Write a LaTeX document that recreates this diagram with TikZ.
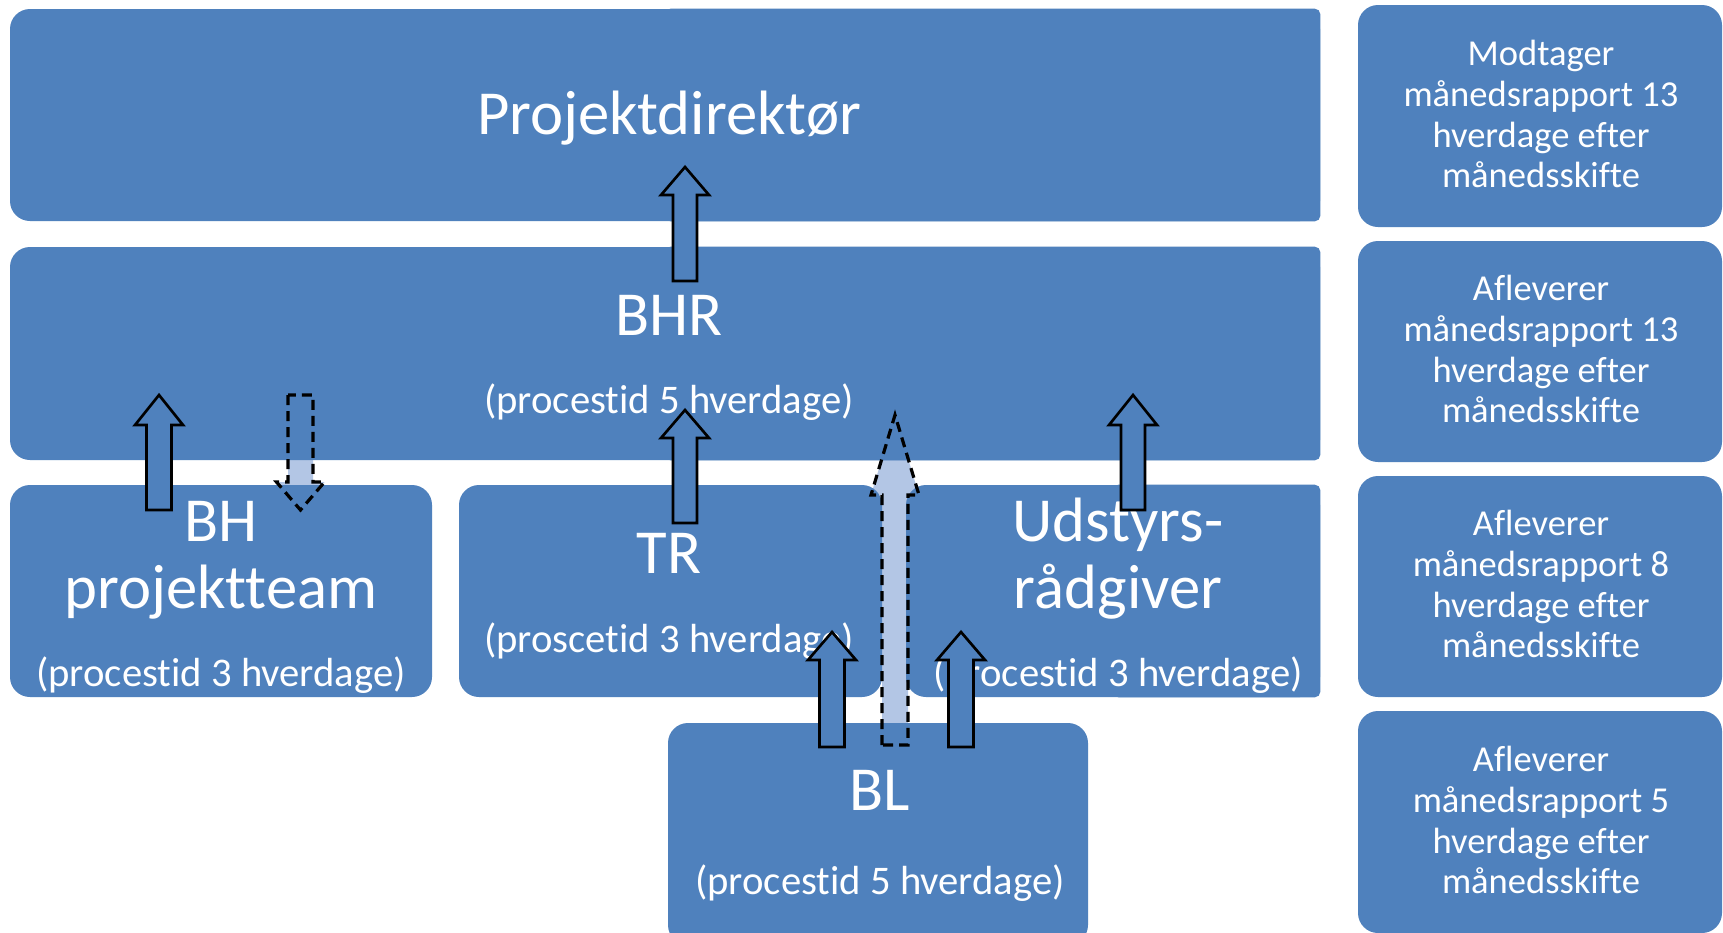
\documentclass[tikz,border=0pt]{standalone}
\usepackage{fontspec}
\setmainfont{Carlito}[Ligatures=NoCommon]
\definecolor{boxblue}{HTML}{4F81BD}
\definecolor{patblue}{HTML}{B3C6E5}
\newcommand\blkarrow[6]{% #1 style, #2 x, #3 base y, #4 tip y, #5 head base y, #6 body half width
  \path[#1] ({#2-#6},#3) -- ({#2-#6},#5) -- ({#2-24},#5) -- (#2,#4) -- ({#2+24},#5) -- ({#2+#6},#5) -- ({#2+#6},#3) -- cycle;}
\tikzset{
  box/.style={fill=boxblue, rounded corners=15pt, inner sep=0pt},
  bigtxt/.style={text=white, anchor=base, inner sep=0pt, font=\fontsize{47}{52}\selectfont},
  proctxt/.style={text=white, anchor=base, inner sep=0pt, font=\fontsize{30.5}{34}\selectfont},
  sidetxt/.style={text=white, anchor=base, inner sep=0pt, font=\fontsize{27.4}{31}\selectfont},
  solidarrow/.style={draw=black, fill=boxblue, line width=2pt, line join=miter},
  dasharrowfill/.style={fill=patblue},
  dasharrowline/.style={draw=black, line width=2.4pt, dash pattern=on 7.5pt off 4.5pt, line join=miter},
}
\begin{document}
\begin{tikzpicture}[x=0.75pt, y=-0.75pt]
\useasboundingbox (0,0) rectangle (1723,932);
\clip (0,0) rectangle (1723,932);
\fill[white] (0,0) rectangle (1723,932);
% patterned fills of the dashed arrows (visible only where no box lies over them)
\blkarrow{dasharrowfill}{300.5}{395}{510}{482}{12.5}
\blkarrow{dasharrowfill}{895}{745}{415}{495}{13}
% boxes
\node[box, minimum width=982.5pt, minimum height=159pt] (pd) at (665,115) {};
\fill[boxblue, rounded corners=4pt] (pd.north) rectangle (pd.south east);
\node[box, minimum width=982.5pt, minimum height=159.75pt] (bhr) at (665,353.5) {};
\fill[boxblue, rounded corners=4pt] (bhr.north) rectangle (bhr.south east);
\node[box, minimum width=316.5pt, minimum height=159pt] (bh) at (221,591) {};
\node[box, minimum width=317.25pt, minimum height=159pt] (tr) at (670.5,591) {};
\node[box, minimum width=310.5pt, minimum height=159pt] (ud) at (1113,591) {};
\fill[boxblue, rounded corners=4pt] (ud.north) rectangle (ud.south east);
\node[box, minimum width=315pt, minimum height=166.5pt] (bl) at (878,834) {};
\node[box, minimum width=273pt, minimum height=166.5pt] (r1) at (1540,116) {};
\node[box, minimum width=273pt, minimum height=165.75pt] (r2) at (1540,351.5) {};
\node[box, minimum width=273pt, minimum height=165.75pt] (r3) at (1540,586.5) {};
\node[box, minimum width=273pt, minimum height=166.5pt] (r4) at (1540,822) {};
% texts
\node[bigtxt] (tpd) at (669,134) {Projektdirektør};
\node[bigtxt] (tbhr) at (669,335) {BHR};
\node[proctxt] (pbhr) at (669,413) {(procestid 5 hverdage)};
\node[bigtxt] (tbh1) at (221,541) {BH};
\node[bigtxt] (tbh2) at (221,608) {projektteam};
\node[proctxt] (pbh) at (221,686) {(procestid 3 hverdage)};
\node[bigtxt] (ttr) at (669,573) {TR};
\node[proctxt] (ptr) at (669,652) {(proscetid 3 hverdage)};
\node[bigtxt] (tud1) at (1118,541) {Udstyrs-};
\node[bigtxt] (tud2) at (1118,608) {rådgiver};
\node[proctxt] (pud) at (1118,686) {(procestid 3 hverdage)};
\node[bigtxt] (tbl) at (880,810) {BL};
\node[proctxt] (pbl) at (880,894) {(procestid 5 hverdage)};
\node[sidetxt] (s1a) at (1541,65) {Modtager};
\node[sidetxt] (s1b) at (1541,106) {månedsrapport 13};
\node[sidetxt] (s1c) at (1541,147) {hverdage efter};
\node[sidetxt] (s1d) at (1541,187) {månedsskifte};
\node[sidetxt] (s2a) at (1541,300) {Afleverer};
\node[sidetxt] (s2b) at (1541,341) {månedsrapport 13};
\node[sidetxt] (s2c) at (1541,382) {hverdage efter};
\node[sidetxt] (s2d) at (1541,422) {månedsskifte};
\node[sidetxt] (s3a) at (1541,535) {Afleverer};
\node[sidetxt] (s3b) at (1541,576) {månedsrapport 8};
\node[sidetxt] (s3c) at (1541,617) {hverdage efter};
\node[sidetxt] (s3d) at (1541,657) {månedsskifte};
\node[sidetxt] (s4a) at (1541,771) {Afleverer};
\node[sidetxt] (s4b) at (1541,812) {månedsrapport 5};
\node[sidetxt] (s4c) at (1541,853) {hverdage efter};
\node[sidetxt] (s4d) at (1541,893) {månedsskifte};
% solid block arrows
\blkarrow{solidarrow}{685}{281}{167}{195}{12}
\blkarrow{solidarrow}{159}{510}{395}{425}{12.5}
\blkarrow{solidarrow}{685}{523}{410}{438}{12}
\blkarrow{solidarrow}{1133}{510}{395}{425}{12}
\blkarrow{solidarrow}{832}{747}{632}{660}{12.5}
\blkarrow{solidarrow}{961}{747}{632}{660}{12.5}
% dashed outlines
\blkarrow{dasharrowline}{300.5}{395}{510}{482}{12.5}
\blkarrow{dasharrowline}{895}{745}{415}{495}{13}
\end{tikzpicture}
\end{document}
